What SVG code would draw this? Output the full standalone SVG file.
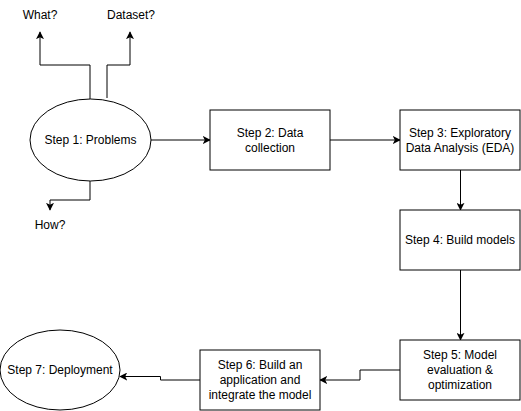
<svg xmlns="http://www.w3.org/2000/svg" width="521" height="411" viewBox="0 0 521 411">
<style>
.n{fill:#fff;stroke:#000;stroke-width:1}
.c{fill:none;stroke:#000;stroke-width:1}
text{font-family:"Liberation Sans",Arial,sans-serif;font-size:12px;fill:#000;text-anchor:middle}
</style>
<defs>
<marker id="a" viewBox="0 0 10 10" refX="9" refY="5" markerWidth="8" markerHeight="8" markerUnits="userSpaceOnUse" orient="auto">
<path d="M0,0 L10,5 L0,10 L2.5,5 Z" fill="#000"/>
</marker>
</defs>
<rect width="521" height="411" fill="#fff"/>
<g id="connectors">
<path class="c" d="M90,99 V65 H40 V32" marker-end="url(#a)"/>
<path class="c" d="M107,98 V65 H130 V32" marker-end="url(#a)"/>
<path class="c" d="M90,181 V200 H50 V210" marker-end="url(#a)"/>
<path class="c" d="M151,140 H210" marker-end="url(#a)"/>
<path class="c" d="M330,140 H400" marker-end="url(#a)"/>
<path class="c" d="M460.5,170 V210" marker-end="url(#a)"/>
<path class="c" d="M460.5,270 V340" marker-end="url(#a)"/>
<path class="c" d="M400,370 H360 V380 H320" marker-end="url(#a)"/>
<path class="c" d="M200,380 H160.5 V376.5 H120" marker-end="url(#a)"/>
</g>
<g id="what"><text x="40" y="19">What?</text></g>
<g id="dataset"><text x="131" y="19">Dataset?</text></g>
<g id="how"><text x="50" y="229">How?</text></g>
<g id="step1"><ellipse class="n" cx="90.5" cy="140" rx="60.5" ry="41"/><text x="90.5" y="144">Step 1: Problems</text></g>
<g id="step2"><rect class="n" x="210" y="110" width="120" height="60"/><text x="270" y="137">Step 2: Data</text><text x="270" y="152">collection</text></g>
<g id="step3"><rect class="n" x="400" y="110" width="120" height="60"/><text x="460" y="137">Step 3: Exploratory</text><text x="460" y="152">Data Analysis (EDA)</text></g>
<g id="step4"><rect class="n" x="400" y="210" width="120" height="60"/><text x="460" y="244">Step 4: Build models</text></g>
<g id="step5"><rect class="n" x="400" y="340" width="120" height="60"/><text x="460" y="359">Step 5: Model</text><text x="460" y="374">evaluation &amp;</text><text x="460" y="389">optimization</text></g>
<g id="step6"><rect class="n" x="200" y="350" width="120" height="60"/><text x="260" y="369">Step 6: Build an</text><text x="260" y="384">application and</text><text x="260" y="399">integrate the model</text></g>
<g id="step7"><ellipse class="n" cx="60" cy="370" rx="60" ry="40"/><text x="60" y="374">Step 7: Deployment</text></g>
</svg>
